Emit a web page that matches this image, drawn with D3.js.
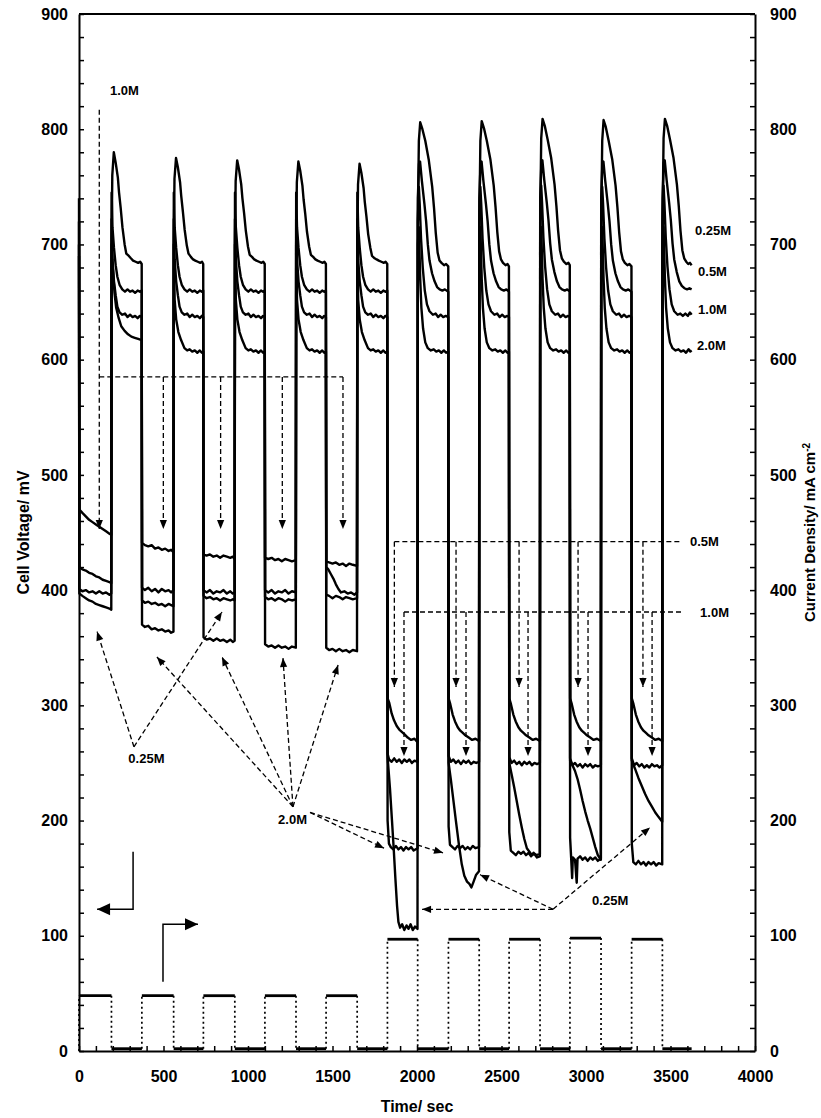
<!DOCTYPE html>
<html>
<head>
<meta charset="utf-8">
<script src="https://d3js.org/d3.v7.min.js"></script>
<style>
  body { margin: 0; background: #fff; }
  text { font-family: "Liberation Sans", Arial, sans-serif; font-weight: bold; fill: #000; }
</style>
</head>
<body>
<div class="chart"></div>
<script>
//Tick labels of the time axis and of both vertical axes.
var xTicks = [0, 500, 1000, 1500, 2000, 2500, 3000, 3500, 4000];
var yTicks = [0, 100, 200, 300, 400, 500, 600, 700, 800, 900];

//Cell voltage (mV) against time (s) for each methanol concentration.
var v025 = [
 [0,690],[2,397],[20,395],[40,393],[60,391],[80,390],[100,388],[120,387],[140,386],[160,385],[180,384],[191,383],
 [193,700],[197,760],[206,780],[217,771],[230,758],[237,745],[247,731],[257,715],[270,700],[280,692],[295,690],[307,688],[320,686],[335,685],[350,684],[362,685],[371,683],
 [373,391],[390,389],[410,390],[430,388],[450,389],[470,387],[490,388],[510,386],[530,388],[545,387],[559,386],
 [561,700],[565,757],[574,775],[585,767],[598,754],[605,742],[615,728],[625,713],[638,699],[648,692],[663,689],[675,687],[688,686],[703,685],[718,684],[728,685],[735,683],
 [737,395],[755,393],[775,394],[795,392],[815,393],[835,391],[855,393],[875,392],[895,391],[910,392],[921,391],
 [923,700],[927,755],[936,773],[947,765],[960,752],[967,740],[977,727],[987,712],[1000,698],[1010,691],[1025,689],[1037,687],[1050,686],[1065,685],[1080,684],[1090,685],[1099,683],
 [1101,394],[1120,392],[1140,393],[1160,391],[1180,393],[1200,392],[1220,390],[1240,392],[1260,391],[1283,392],
 [1285,700],[1289,754],[1298,772],[1309,764],[1322,751],[1329,739],[1339,726],[1349,711],[1362,698],[1372,691],[1387,689],[1399,687],[1412,686],[1427,685],[1442,684],[1452,685],[1461,683],
 [1463,396],[1480,395],[1500,393],[1520,395],[1540,394],[1560,392],[1580,394],[1600,393],[1620,392],[1645,393],
 [1647,700],[1651,752],[1660,770],[1671,762],[1684,749],[1691,737],[1701,724],[1711,709],[1724,697],[1734,690],[1749,688],[1761,687],[1774,686],[1789,685],[1804,684],[1814,685],[1824,683],
 [1826,255],[1840,228],[1852,200],[1862,176],[1872,150],[1882,126],[1890,112],[1900,107],[1912,110],[1925,105],[1938,109],[1950,106],[1962,110],[1975,105],[1988,108],[2003,106],
 [2005,720],[2011,790],[2019,806],[2032,800],[2049,790],[2070,773],[2090,750],[2101,731],[2111,710],[2122,693],[2133,686],[2145,684],[2160,682],[2172,683],[2185,681],
 [2187,250],[2200,236],[2215,218],[2230,200],[2249,178],[2265,162],[2280,152],[2296,147],[2310,145],[2322,142],[2335,147],[2350,153],[2367,156],
 [2369,720],[2375,790],[2383,807],[2396,801],[2413,790],[2434,774],[2454,751],[2465,732],[2475,711],[2486,694],[2497,687],[2509,684],[2524,682],[2536,683],[2544,681],
 [2546,250],[2560,240],[2575,229],[2590,217],[2605,205],[2620,194],[2635,184],[2650,176],[2665,173],[2680,170],[2695,171],[2710,168],[2727,169],
 [2729,720],[2735,792],[2743,809],[2756,803],[2773,791],[2794,775],[2814,752],[2825,733],[2835,712],[2846,695],[2857,688],[2869,685],[2884,683],[2896,684],[2904,682],
 [2906,252],[2920,248],[2935,243],[2950,236],[2965,227],[2980,217],[2995,208],[3010,200],[3025,193],[3040,185],[3055,177],[3070,170],[3088,166],
 [3090,720],[3096,790],[3104,808],[3117,802],[3134,790],[3155,774],[3175,751],[3186,732],[3196,711],[3207,694],[3218,687],[3230,684],[3245,682],[3257,683],[3269,681],
 [3271,252],[3290,245],[3310,237],[3330,230],[3350,223],[3370,217],[3390,212],[3410,207],[3430,203],[3451,199],
 [3453,720],[3459,792],[3467,809],[3480,803],[3497,791],[3518,775],[3538,752],[3549,733],[3559,712],[3570,695],[3581,688],[3593,685],[3605,683],[3615,684],[3625,682]
];

var v05 = [
 [0,720],[2,401],[20,399],[40,400],[60,398],[80,399],[100,397],[120,399],[140,397],[160,398],[180,396],[191,397],
 [193,745],[198,715],[207,697],[217,682],[227,672],[240,665],[256,661],[272,659],[287,661],[302,659],[317,660],[332,658],[347,660],[360,659],[371,660],
 [373,402],[390,400],[410,402],[430,399],[450,401],[470,398],[490,401],[510,399],[530,400],[545,398],[559,400],
 [561,745],[566,715],[575,697],[585,682],[595,672],[608,665],[624,661],[640,659],[655,661],[670,659],[685,660],[700,658],[715,660],[727,659],[735,660],
 [737,400],[755,398],[775,400],[795,397],[815,399],[835,398],[855,400],[875,397],[895,399],[910,397],[921,398],
 [923,745],[928,715],[937,697],[947,682],[957,672],[970,665],[986,661],[1002,659],[1017,661],[1032,659],[1047,660],[1062,658],[1077,660],[1089,659],[1099,660],
 [1101,400],[1120,398],[1140,400],[1160,397],[1180,399],[1200,398],[1220,400],[1240,397],[1260,399],[1283,398],
 [1285,745],[1290,715],[1299,697],[1309,682],[1319,672],[1332,665],[1348,661],[1364,659],[1379,661],[1394,659],[1409,660],[1424,658],[1439,660],[1451,659],[1461,660],
 [1463,420],[1475,418],[1490,414],[1505,410],[1520,405],[1535,401],[1550,398],[1570,399],[1590,397],[1610,398],[1630,396],[1645,398],
 [1647,745],[1652,715],[1661,697],[1671,682],[1681,672],[1694,665],[1710,661],[1726,659],[1741,661],[1756,659],[1771,660],[1786,658],[1801,660],[1813,659],[1824,660],
 [1826,306],[1836,302],[1850,293],[1864,287],[1880,282],[1895,279],[1910,277],[1925,275],[1945,272],[1965,270],[1985,271],[2003,268],
 [2005,740],[2012,770],[2018,772],[2029,755],[2044,735],[2054,720],[2064,700],[2074,686],[2089,675],[2104,668],[2119,663],[2134,661],[2150,660],[2165,661],[2185,659],
 [2187,306],[2197,301],[2211,292],[2225,286],[2241,281],[2256,278],[2271,276],[2286,274],[2306,272],[2326,270],[2346,271],[2367,269],
 [2369,740],[2376,770],[2382,772],[2393,755],[2408,735],[2418,720],[2428,700],[2438,686],[2453,675],[2468,668],[2483,663],[2498,661],[2514,660],[2529,661],[2544,659],
 [2546,306],[2556,301],[2570,292],[2584,286],[2600,281],[2615,278],[2630,276],[2645,274],[2665,272],[2685,270],[2705,271],[2727,269],
 [2729,740],[2736,770],[2742,773],[2753,756],[2768,736],[2778,721],[2788,701],[2798,687],[2813,676],[2828,668],[2843,663],[2858,661],[2874,660],[2889,661],[2904,659],
 [2906,306],[2916,301],[2930,292],[2944,286],[2960,281],[2975,278],[2990,276],[3005,274],[3025,272],[3045,270],[3065,271],[3088,269],
 [3090,740],[3097,770],[3103,772],[3114,755],[3129,735],[3139,720],[3149,700],[3159,686],[3174,675],[3189,668],[3204,663],[3219,661],[3235,660],[3250,661],[3269,659],
 [3271,306],[3281,301],[3295,292],[3309,286],[3325,281],[3340,278],[3355,276],[3370,274],[3390,272],[3410,270],[3430,271],[3451,269],
 [3453,740],[3460,771],[3466,773],[3477,756],[3492,736],[3502,721],[3512,701],[3522,687],[3537,676],[3552,668],[3567,664],[3582,662],[3598,661],[3612,662],[3625,661]
];

var v10 = [
 [0,740],[2,470],[20,467],[40,464],[60,461],[80,459],[100,457],[120,455],[140,453],[160,451],[180,449],[191,448],
 [193,722],[198,687],[207,668],[217,656],[227,646],[240,641],[256,639],[272,640],[287,637],[302,639],[317,637],[332,638],[347,636],[360,638],[371,637],
 [373,441],[390,439],[410,438],[430,439],[450,436],[470,437],[490,435],[510,436],[530,434],[545,435],[559,433],
 [561,722],[566,687],[575,668],[585,656],[595,646],[608,641],[624,639],[640,640],[655,637],[670,639],[685,637],[700,638],[715,636],[727,638],[735,637],
 [737,431],[755,430],[775,431],[795,429],[815,430],[835,428],[855,430],[875,429],[895,428],[910,429],[921,427],
 [923,722],[928,687],[937,668],[947,656],[957,646],[970,641],[986,639],[1002,640],[1017,637],[1032,639],[1047,637],[1062,638],[1077,636],[1089,638],[1099,637],
 [1101,428],[1120,427],[1140,428],[1160,426],[1180,427],[1200,425],[1220,427],[1240,426],[1260,425],[1283,426],
 [1285,722],[1290,687],[1299,668],[1309,656],[1319,646],[1332,641],[1348,639],[1364,640],[1379,637],[1394,639],[1409,637],[1424,638],[1439,636],[1451,638],[1461,637],
 [1463,425],[1480,424],[1500,423],[1520,424],[1540,422],[1560,423],[1580,421],[1600,423],[1620,422],[1645,421],
 [1647,722],[1652,687],[1661,668],[1671,656],[1681,646],[1694,641],[1710,639],[1726,640],[1741,637],[1756,639],[1771,637],[1786,638],[1801,636],[1813,638],[1824,637],
 [1826,258],[1835,253],[1850,251],[1865,254],[1880,251],[1895,253],[1910,250],[1925,253],[1940,251],[1955,253],[1970,250],[1985,252],[2003,251],
 [2005,720],[2011,750],[2016,735],[2024,705],[2034,680],[2046,660],[2059,648],[2074,642],[2094,639],[2110,640],[2125,637],[2140,639],[2155,637],[2170,638],[2185,637],
 [2187,256],[2200,251],[2215,253],[2230,250],[2245,252],[2260,249],[2275,252],[2290,250],[2305,252],[2320,249],[2335,251],[2350,250],[2367,251],
 [2369,720],[2375,750],[2380,735],[2388,705],[2398,680],[2410,660],[2423,648],[2438,642],[2458,639],[2474,640],[2489,637],[2504,639],[2519,637],[2534,638],[2544,637],
 [2546,255],[2560,250],[2575,252],[2590,249],[2605,251],[2620,248],[2635,251],[2650,249],[2665,251],[2680,248],[2695,250],[2710,249],[2727,250],
 [2729,720],[2735,751],[2740,736],[2748,706],[2758,681],[2770,661],[2783,648],[2798,642],[2818,639],[2834,640],[2849,637],[2864,639],[2879,637],[2894,638],[2904,637],
 [2906,254],[2920,248],[2935,250],[2950,247],[2965,249],[2980,246],[2995,249],[3010,247],[3025,249],[3040,246],[3055,248],[3070,247],[3088,248],
 [3090,720],[3096,750],[3101,735],[3109,705],[3119,680],[3131,660],[3144,648],[3159,642],[3179,639],[3195,640],[3210,637],[3225,639],[3240,637],[3255,638],[3269,637],
 [3271,254],[3285,248],[3300,250],[3315,247],[3330,249],[3345,246],[3360,248],[3375,246],[3390,249],[3405,247],[3420,248],[3435,246],[3451,248],
 [3453,720],[3459,751],[3464,736],[3472,706],[3482,681],[3494,661],[3507,648],[3522,642],[3542,639],[3558,640],[3573,638],[3588,640],[3603,638],[3615,641],[3625,639]
];

var v20 = [
 [0,700],[2,420],[20,418],[40,417],[60,415],[80,414],[100,412],[120,411],[140,409],[160,408],[180,407],[191,406],
 [193,700],[200,680],[210,658],[220,645],[235,636],[250,629],[270,625],[290,622],[310,620],[330,619],[350,618],[371,617],
 [373,370],[390,368],[410,369],[430,366],[450,367],[470,365],[490,366],[510,364],[530,365],[545,363],[559,364],
 [561,700],[566,652],[575,635],[588,624],[604,617],[624,610],[640,608],[655,609],[670,607],[685,608],[700,606],[715,608],[727,606],[735,607],
 [737,359],[755,357],[775,358],[795,356],[815,358],[835,356],[855,357],[875,355],[895,357],[910,355],[921,356],
 [923,700],[928,652],[937,635],[950,624],[966,617],[986,610],[1002,608],[1017,609],[1032,607],[1047,608],[1062,606],[1077,608],[1089,606],[1099,607],
 [1101,353],[1120,351],[1140,352],[1160,350],[1180,352],[1200,350],[1220,351],[1240,349],[1260,351],[1283,350],
 [1285,700],[1290,652],[1299,635],[1312,624],[1328,617],[1348,610],[1364,608],[1379,609],[1394,607],[1409,608],[1424,606],[1439,608],[1451,606],[1461,607],
 [1463,350],[1480,348],[1500,349],[1520,347],[1540,349],[1560,347],[1580,348],[1600,346],[1620,348],[1645,347],
 [1647,700],[1652,652],[1661,635],[1674,624],[1690,617],[1710,610],[1726,608],[1741,609],[1756,607],[1771,608],[1786,606],[1801,608],[1813,606],[1824,607],
 [1826,200],[1834,180],[1845,177],[1860,175],[1875,178],[1890,175],[1905,177],[1920,174],[1935,177],[1950,175],[1965,177],[1980,174],[2003,176],
 [2005,700],[2011,715],[2019,670],[2026,645],[2036,627],[2049,615],[2064,610],[2082,608],[2099,609],[2114,607],[2129,608],[2144,606],[2159,608],[2172,606],[2185,607],
 [2187,195],[2195,179],[2210,177],[2225,175],[2240,178],[2255,176],[2270,178],[2285,175],[2300,177],[2315,175],[2330,178],[2345,176],[2367,177],
 [2369,700],[2375,715],[2383,670],[2390,645],[2400,627],[2413,615],[2428,610],[2446,608],[2463,609],[2478,607],[2493,608],[2508,606],[2523,608],[2535,606],[2544,607],
 [2546,190],[2555,174],[2570,172],[2585,170],[2600,173],[2615,171],[2630,173],[2645,170],[2660,172],[2675,169],[2690,172],[2705,170],[2727,171],
 [2729,700],[2735,715],[2743,670],[2750,645],[2760,627],[2773,615],[2788,610],[2806,608],[2823,609],[2838,607],[2853,608],[2868,606],[2883,608],[2895,606],[2904,607],
 [2906,185],[2912,168],[2918,150],[2922,168],[2935,166],[2945,146],[2950,167],[2965,169],[2980,166],[2995,168],[3010,165],[3025,168],[3040,166],[3055,168],[3070,165],[3088,167],
 [3090,700],[3096,715],[3104,670],[3111,645],[3121,627],[3134,615],[3149,610],[3167,608],[3184,609],[3199,607],[3214,608],[3229,606],[3244,608],[3257,606],[3269,607],
 [3271,180],[3280,164],[3295,162],[3310,165],[3325,162],[3340,164],[3355,161],[3370,164],[3385,162],[3400,164],[3415,161],[3430,163],[3451,162],
 [3453,700],[3459,715],[3467,670],[3474,645],[3484,627],[3497,615],[3512,610],[3530,608],[3547,609],[3562,607],[3577,608],[3592,606],[3607,609],[3617,607],[3625,608]
];

//Applied current density (mA cm-2) against time (s).
var current = [[0,0],[0,48],[192,48],[192,2],[372,2],[372,48],[560,48],[560,2],[736,2],[736,48],[922,48],[922,2],
 [1100,2],[1100,48],[1284,48],[1284,2],[1462,2],[1462,48],[1646,48],[1646,2],[1825,2],[1825,97],[2004,97],[2004,2],
 [2186,2],[2186,97],[2368,97],[2368,2],[2545,2],[2545,97],[2728,97],[2728,2],[2905,2],[2905,98],[3089,98],[3089,2],
 [3270,2],[3270,97],[3452,97],[3452,2],[3625,2]];

//Concentration labels, in axis units (time, mV).
var labels = [
 {text: "1.0M", t: 183, v: 830},
 {text: "0.25M", t: 292, v: 250},
 {text: "2.0M", t: 1178, v: 197},
 {text: "0.5M", t: 3615, v: 438},
 {text: "1.0M", t: 3675, v: 377},
 {text: "0.25M", t: 3036, v: 127},
 {text: "0.25M", t: 3645, v: 708},
 {text: "0.5M", t: 3663, v: 673},
 {text: "1.0M", t: 3663, v: 640},
 {text: "2.0M", t: 3657, v: 608}
];

//Dashed pointer lines, in axis units; arrow marks a head at the last point.
var pointers = [
 {pts: [[120,817],[120,453]], arrow: true},
 {pts: [[120,585],[1562,585]], arrow: false},
 {pts: [[499,585],[499,453]], arrow: true},
 {pts: [[838,585],[838,453]], arrow: true},
 {pts: [[1203,585],[1203,453]], arrow: true},
 {pts: [[1562,585],[1562,453]], arrow: true},
 {pts: [[325,264],[107,364]], arrow: true},
 {pts: [[325,264],[846,381]], arrow: true},
 {pts: [[1266,212],[461,342]], arrow: true},
 {pts: [[1266,212],[846,342]], arrow: true},
 {pts: [[1266,212],[1207,341]], arrow: true},
 {pts: [[1266,212],[1533,335]], arrow: true},
 {pts: [[1367,207],[1805,176]], arrow: true},
 {pts: [[1367,207],[2154,172]], arrow: true},
 {pts: [[1866,442],[3562,442]], arrow: false},
 {pts: [[1866,442],[1866,316]], arrow: true},
 {pts: [[2231,442],[2231,316]], arrow: true},
 {pts: [[2604,442],[2604,316]], arrow: true},
 {pts: [[2953,442],[2953,316]], arrow: true},
 {pts: [[3337,442],[3337,316]], arrow: true},
 {pts: [[1923,381],[3580,381]], arrow: false},
 {pts: [[1923,381],[1923,256]], arrow: true},
 {pts: [[2290,381],[2290,256]], arrow: true},
 {pts: [[2657,381],[2657,256]], arrow: true},
 {pts: [[3012,381],[3012,256]], arrow: true},
 {pts: [[3391,381],[3391,256]], arrow: true},
 {pts: [[2805,123],[2030,123]], arrow: true},
 {pts: [[2805,123],[2373,153]], arrow: true},
 {pts: [[2805,123],[3379,194]], arrow: true}
];

//Solid L-shaped arrows telling which axis each trace uses.
var axisArrows = [
 [[320,173],[320,123],[107,123]],
 [[497,60],[497,110],[704,110]]
];

//Define the SVG area dimensions and the plot frame.
var svgWidth = 821;
var svgHeight = 1118;
var margin = {top: 14, right: 66, bottom: 67, left: 79};
var chartWidth = svgWidth - margin.left - margin.right;
var chartHeight = svgHeight - margin.top - margin.bottom;

var svg = d3.select(".chart")
  .append("svg")
  .attr("width", svgWidth)
  .attr("height", svgHeight);

var defs = svg.append("defs");
defs.append("marker")
  .attr("id", "head")
  .attr("viewBox", "-10 -5 10 10")
  .attr("refX", 0).attr("refY", 0)
  .attr("markerWidth", 10).attr("markerHeight", 10)
  .attr("markerUnits", "userSpaceOnUse")
  .attr("orient", "auto")
  .append("path").attr("d", "M0,0L-9,-3.6L-9,3.6Z").attr("fill", "#000");
defs.append("marker")
  .attr("id", "bighead")
  .attr("viewBox", "-14 -7 14 14")
  .attr("refX", 0).attr("refY", 0)
  .attr("markerWidth", 14).attr("markerHeight", 14)
  .attr("markerUnits", "userSpaceOnUse")
  .attr("orient", "auto")
  .append("path").attr("d", "M0,0L-13,-6L-13,6Z").attr("fill", "#000");

var chart = svg.append("g")
  .attr("transform", "translate(" + margin.left + "," + margin.top + ")");

//Scales: both vertical axes share the 0-900 range.
var x = d3.scaleLinear().domain([0, 4000]).range([0, chartWidth]);
var y = d3.scaleLinear().domain([0, 900]).range([chartHeight, 0]);

var line = d3.line()
  .x(function(d) { return x(d[0]); })
  .y(function(d) { return y(d[1]); });

//Axes with inward ticks; labels only on the major values.
var minorY = d3.range(0, 901, 20);
var minorX = d3.range(0, 4001, 100);

var leftAxis = d3.axisLeft(y).tickValues(minorY).tickSizeInner(-5).tickSizeOuter(0).tickPadding(11)
  .tickFormat(function(d) { return yTicks.indexOf(d) >= 0 ? d : ""; });
var rightAxis = d3.axisRight(y).tickValues(minorY).tickSizeInner(-5).tickSizeOuter(0).tickPadding(15)
  .tickFormat(function(d) { return yTicks.indexOf(d) >= 0 ? d : ""; });
var bottomAxis = d3.axisBottom(x).tickValues(minorX).tickSizeInner(-5).tickSizeOuter(0).tickPadding(20)
  .tickFormat(function(d) { return xTicks.indexOf(d) >= 0 ? d : ""; });

var axes = [
  chart.append("g").call(leftAxis),
  chart.append("g").attr("transform", "translate(" + chartWidth + ",0)").call(rightAxis),
  chart.append("g").attr("transform", "translate(0," + chartHeight + ")").call(bottomAxis)
];
axes.forEach(function(g) {
  g.selectAll("text")
    .attr("font-size", 16)
    .style("font-family", "'Liberation Sans', Arial, sans-serif")
    .style("font-weight", "bold");
  g.selectAll(".tick line").attr("stroke-width", 1.5);
  g.select(".domain").attr("stroke-width", 2);
});

//Top border of the frame.
chart.append("line")
  .attr("x1", 0).attr("x2", chartWidth)
  .attr("y1", 0).attr("y2", 0)
  .attr("stroke", "#000").attr("stroke-width", 2);

//Current density trace: dotted steps, noisy flat plateaus.
for (var i = 1; i < current.length; i++) {
  var a = current[i - 1], b = current[i];
  var flat = a[1] === b[1];
  chart.append("line")
    .attr("x1", x(a[0])).attr("y1", y(a[1]))
    .attr("x2", x(b[0])).attr("y2", y(b[1]))
    .attr("stroke", "#000")
    .attr("stroke-width", flat ? 2.8 : 1.7)
    .attr("stroke-dasharray", flat ? null : "2,3");
}

//Cell voltage traces.
[v025, v05, v10, v20].forEach(function(series) {
  chart.append("path")
    .attr("d", line(series))
    .attr("fill", "none")
    .attr("stroke", "#000")
    .attr("stroke-width", 2.4)
    .attr("stroke-linejoin", "round");
});

//Dashed pointers.
pointers.forEach(function(p) {
  chart.append("path")
    .attr("d", line(p.pts))
    .attr("fill", "none")
    .attr("stroke", "#000")
    .attr("stroke-width", 1.3)
    .attr("stroke-dasharray", "5,3")
    .attr("marker-end", p.arrow ? "url(#head)" : null);
});

//Axis pointer arrows.
axisArrows.forEach(function(p) {
  chart.append("path")
    .attr("d", line(p))
    .attr("fill", "none")
    .attr("stroke", "#000")
    .attr("stroke-width", 1.5)
    .attr("marker-end", "url(#bighead)");
});

//Concentration labels.
chart.selectAll(".conc")
  .data(labels)
  .enter().append("text")
  .attr("class", "conc")
  .attr("x", function(d) { return x(d.t); })
  .attr("y", function(d) { return y(d.v); })
  .attr("font-size", 13)
  .text(function(d) { return d.text; });

//Axis titles.
svg.append("text")
  .attr("x", margin.left + chartWidth / 2)
  .attr("y", 1112)
  .attr("text-anchor", "middle")
  .attr("font-size", 16)
  .text("Time/ sec");

svg.append("text")
  .attr("transform", "translate(29," + (margin.top + chartHeight / 2) + ") rotate(-90)")
  .attr("text-anchor", "middle")
  .attr("font-size", 16)
  .text("Cell Voltage/ mV");

var rightTitle = svg.append("text")
  .attr("transform", "translate(815," + (margin.top + chartHeight / 2) + ") rotate(-90)")
  .attr("text-anchor", "middle")
  .attr("font-size", 15);
rightTitle.append("tspan").text("Current Density/ mA cm");
rightTitle.append("tspan").attr("baseline-shift", "super").attr("font-size", 10).text("-2");
</script>
</body>
</html>
